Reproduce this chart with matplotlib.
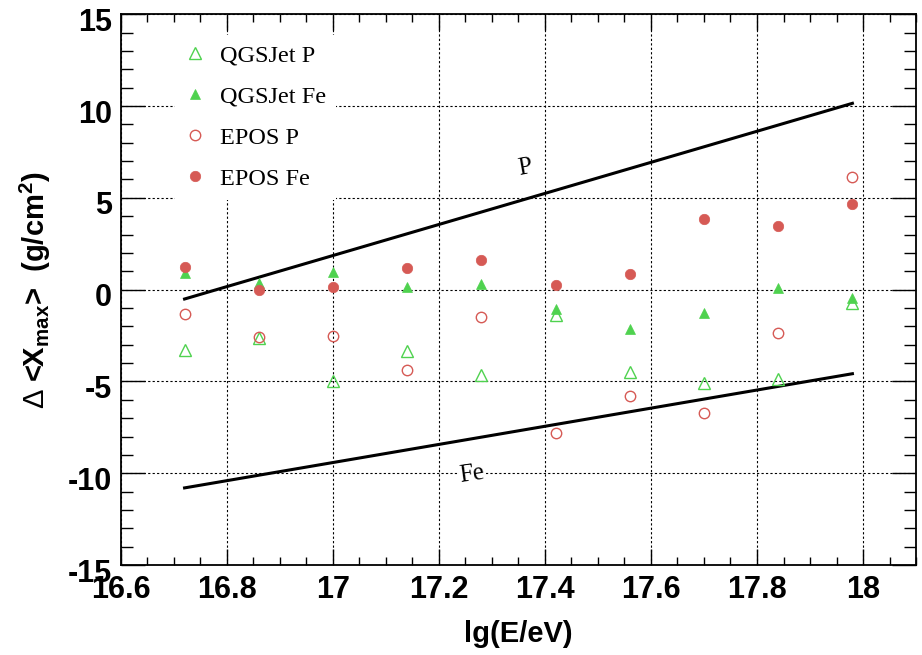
import matplotlib
matplotlib.use("Agg")
import matplotlib.pyplot as plt
from matplotlib.ticker import MultipleLocator
from matplotlib.transforms import ScaledTranslation

plt.rcParams["font.family"] = ["Liberation Sans", "DejaVu Sans"]
plt.rcParams["mathtext.fontset"] = "custom"
plt.rcParams["mathtext.rm"] = "Liberation Sans"
plt.rcParams["mathtext.bf"] = "Liberation Sans:bold"
plt.rcParams["axes.unicode_minus"] = False

# energy bins, lg(E/eV)
lg_e = [16.72, 16.86, 17.00, 17.14, 17.28, 17.42, 17.56, 17.70, 17.84, 17.98]

# shift of <Xmax> in g/cm^2
qgsjet_p = [-3.29, -2.62, -4.96, -3.34, -4.67, -1.38, -4.47, -5.07, -4.87, -0.71]
qgsjet_fe = [0.90, 0.38, 0.98, 0.13, 0.33, -1.07, -2.14, -1.29, 0.08, -0.47]
epos_p = [-1.34, -2.60, -2.53, -4.40, -1.50, -7.82, -5.80, -6.74, -2.38, 6.13]
epos_fe = [1.25, 0.00, 0.16, 1.17, 1.63, 0.28, 0.86, 3.84, 3.44, 4.64]

# reference lines for pure proton / iron
line_x = [16.72, 17.98]
line_p = [-0.51, 10.15]
line_fe = [-10.80, -4.58]

green = "#4fd24f"
red = "#d65a55"

fig = plt.figure(figsize=(9.22, 6.55), dpi=100)
ax = fig.add_axes([0.1312, 0.1374, 0.8623, 0.8408])

ax.plot(line_x, line_p, color="black", lw=2.2, zorder=3)
ax.plot(line_x, line_fe, color="black", lw=2.2, zorder=3)

ax.plot(lg_e, qgsjet_p, ls="none", marker="^", ms=8, mfc="none", mec=green,
        mew=1.0, label="QGSJet P", zorder=4)
ax.plot(lg_e, qgsjet_fe, ls="none", marker="^", ms=7.5, mfc=green, mec=green,
        mew=0.5, label="QGSJet Fe", zorder=4)
ax.plot(lg_e, epos_p, ls="none", marker="o", ms=7.5, mfc="none", mec=red,
        mew=1.0, label="EPOS P", zorder=4)
ax.plot(lg_e, epos_fe, ls="none", marker="o", ms=7.5, mfc=red, mec=red,
        mew=0.5, label="EPOS Fe", zorder=5)

serif = ["Liberation Serif", "DejaVu Serif"]
ax.text(17.362, 6.64, "P", family=serif, fontsize=18, rotation=10,
        ha="center", va="center", zorder=2,
        bbox=dict(facecolor="white", edgecolor="none", pad=4))
ax.text(17.262, -10.06, "Fe", family=serif, fontsize=18, rotation=8,
        ha="center", va="center", zorder=2,
        bbox=dict(facecolor="white", edgecolor="none", pad=1))

ax.set_xlim(16.6, 18.1)
ax.set_ylim(-15, 15)
ax.xaxis.set_major_locator(MultipleLocator(0.2))
ax.xaxis.set_minor_locator(MultipleLocator(0.05))
ax.yaxis.set_major_locator(MultipleLocator(5))
ax.yaxis.set_minor_locator(MultipleLocator(1))
ax.set_xticks([16.6, 16.8, 17.0, 17.2, 17.4, 17.6, 17.8, 18.0])
ax.set_xticklabels(["16.6", "16.8", "17", "17.2", "17.4", "17.6", "17.8", "18"])

ax.grid(True, which="major", color="black", ls=(0, (2, 2)), lw=0.8, zorder=1)
ax.set_axisbelow(True)

ax.tick_params(which="both", direction="in", top=True, right=True,
               colors="black", width=1.0)
ax.tick_params(axis="x", which="major", length=11.5, pad=7, labelsize=22)
ax.tick_params(axis="x", which="minor", length=5.8)
ax.tick_params(axis="y", which="major", length=17, pad=6.5, labelsize=22)
ax.tick_params(axis="y", which="minor", length=8.6)
for lab in ax.get_xticklabels() + ax.get_yticklabels():
    lab.set_fontweight("bold")
for lab in ax.get_yticklabels():
    lab.set_transform(lab.get_transform() +
                      ScaledTranslation(0, -0.05, fig.dpi_scale_trans))
for sp in ax.spines.values():
    sp.set_linewidth(1.3)

ax.set_xlabel("lg(E/eV)", fontsize=21, fontweight="bold")
ax.xaxis.set_label_coords(0.5, -0.1)
ax.set_ylabel(r"$\Delta$ <X$_{\mathbf{max}}$>  (g/cm$^{\mathbf{2}}$)",
              fontsize=21, fontweight="bold")
ax.yaxis.set_label_coords(-0.085, 0.5)

leg = ax.legend(loc="upper left", bbox_to_anchor=(0.053, 0.984),
                prop={"family": serif, "size": 17.5}, frameon=True,
                facecolor="white", edgecolor="none", framealpha=1.0,
                fancybox=False, handlelength=0.8, handletextpad=0.65,
                labelspacing=0.78, borderpad=0.4, numpoints=1)
leg.set_zorder(6)

fig.savefig("out.png", dpi=100)
